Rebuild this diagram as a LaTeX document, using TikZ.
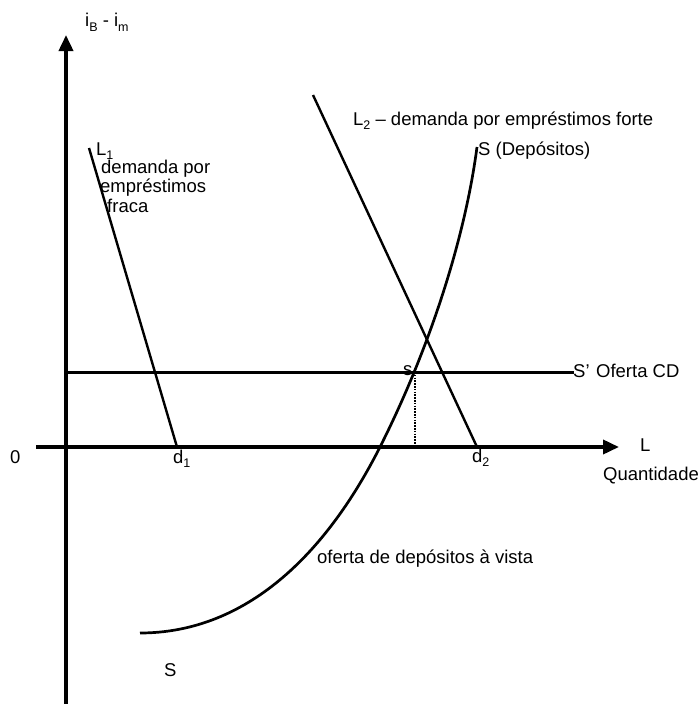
\documentclass[tikz,border=0pt]{standalone}
\usepackage{fontspec}
\setmainfont{Liberation Sans}
\usetikzlibrary{arrows.meta}
\newcommand\lsub[1]{\raisebox{-0.45ex}{\fontsize{12.5}{12.5}\selectfont #1}}
\begin{document}
\begin{tikzpicture}[x=1pt,y=-1pt,
  txt/.style={inner sep=0pt, font=\fontsize{18.5}{22}\selectfont, anchor=base west},
  axis/.style={line width=3.6pt, -{Triangle[length=16pt,width=14pt]}},
  demand/.style={line width=2.4pt},
  supply/.style={line width=2.7pt},
  cdline/.style={line width=3pt},
  guide/.style={line width=1.6pt, dash pattern=on 1.6pt off 1.2pt}]
\fill[white] (0,0) rectangle (699,704);
\useasboundingbox (0,0) rectangle (699,704);
% axes
\coordinate (ybot) at (66,704);
\coordinate (ytop) at (66,35);
\coordinate (xl) at (36,447);
\coordinate (xr) at (619,447);
\draw[axis] (ybot) -- (ytop);
\draw[axis] (xl) -- (xr);
% S' line
\coordinate (cdl) at (66,372);
\coordinate (cdr) at (574,372);
\draw[cdline] (cdl) -- (cdr);
% dotted
\coordinate (s1) at (415,372);
\coordinate (s0) at (415,447);
\draw[guide] (s1) -- (s0);
% L1, L2
\coordinate (l1t) at (89,148);
\coordinate (d1p) at (177,447);
\draw[demand] (l1t) -- (d1p);
\coordinate (l2t) at (313,95);
\coordinate (d2p) at (477,447);
\draw[demand] (l2t) -- (d2p);
% S curve
\coordinate (sb) at (140,633);
\coordinate (sm) at (380,447);
\coordinate (st) at (477,147);
\draw[supply] (sb) .. controls (240,633) and (321.5,562.7) .. (sm)
  .. controls (425,358) and (464,246) .. (st);
% labels
\node[txt] (ylab) at (85,27) {i\lsub{B} - i\lsub{m}};
\node[txt] (zero) at (10,463) {0};
\node[txt] (d1) at (173,463) {d\lsub{1}};
\node[txt] (d2) at (472,462) {d\lsub{2}};
\node[txt] (xlab) at (640,451) {L};
\node[txt] (qlab) at (603,480) {Quantidade};
\node[txt] (cd) at (573,377) {S’\hspace{0.35em}Oferta CD};
\node[txt] (slab) at (403,375) {s};
\node[txt] (sdep) at (478,155) {S (Depósitos)};
\node[txt] (l2lab) at (353,125) {L\lsub{2} – demanda por empréstimos forte};
\node[txt] (l1lab) at (96,155) {L\lsub{1}};
\node[txt] (l1a) at (101,173) {demanda por};
\node[txt] (l1b) at (100,192) {empréstimos};
\node[txt] (l1c) at (107,212) {fraca};
\node[txt] (odv) at (317,563) {oferta de depósitos à vista};
\node[txt] (sbot) at (164,676) {S};
\end{tikzpicture}
\end{document}
